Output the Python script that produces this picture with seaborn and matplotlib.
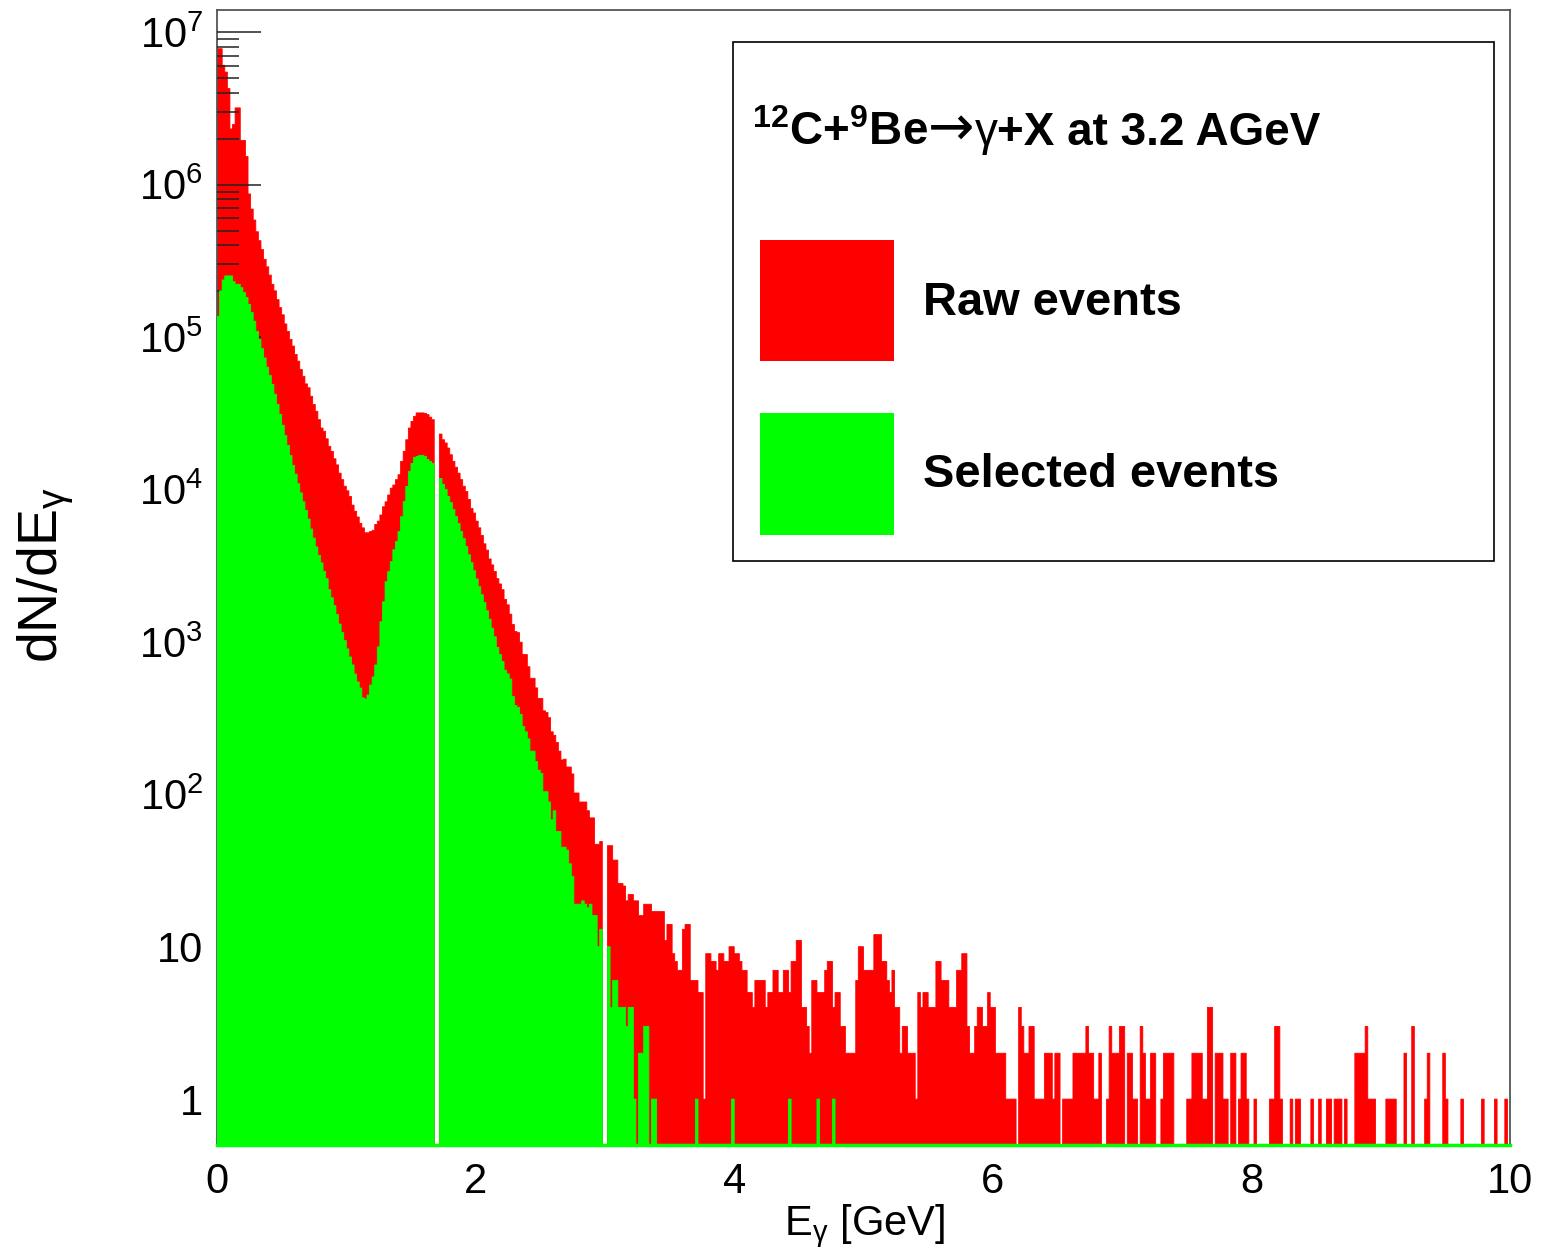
import numpy as np
import pandas as pd
import matplotlib
matplotlib.use("Agg")
import matplotlib.pyplot as plt
import seaborn as sns
from matplotlib.patches import Rectangle
from matplotlib.ticker import FixedLocator, LogLocator, NullFormatter

# ---------------- data (counts per 0.02 GeV bin) ----------------
E_MIN, E_MAX, N_BINS = 0.0, 10.0, 500

# raw events, bins 0..150 (0 - 3.02 GeV)
raw_low = [
    7800000, 7800000, 6070000, 5480000, 4270000, 2320000, 2480000, 3190000, 3190000, 1950000,
    1950000, 1530000, 869000, 692000, 586000, 491000, 429000, 375000, 324000, 289000,
    255000, 222000, 201000, 176000, 156000, 140000, 122000, 109000, 96600, 87300,
    76900, 69500, 61200, 55300, 49300, 46500, 40900, 36100, 32600, 28700,
    25300, 24100, 21500, 19200, 17800, 15900, 14500, 12800, 11600, 10500,
    9800, 9000, 7900, 7200, 6600, 6000, 5600, 5200, 5200, 5300,
    5400, 5900, 6200, 6800, 7700, 8300, 9200, 10200, 10700, 11600,
    12500, 15300, 17800, 21200, 25300, 28000, 30200, 31800, 31800, 31800,
    31600, 31000, 29800, 28700, 0, 0, 23100, 21200, 20200, 18700,
    16900, 15300, 14000, 12800, 11600, 10500, 9700, 8600, 7500, 7000,
    6200, 5600, 5000, 4400, 4000, 3500, 3200, 2900, 2600, 2400,
    2200, 1900, 1750, 1520, 1300, 1170, 1150, 995, 826, 826,
    687, 577, 577, 499, 426, 426, 353, 344, 318, 257,
    244, 219, 192, 168, 170, 151, 151, 136, 102, 102,
    89, 89, 89, 78, 70, 70, 47, 47, 49, 0,
    0,
]

# raw events, bins 151..499 (3.02 - 10 GeV)
raw_tail = [
    46, 46, 37, 37, 26, 26, 25, 20, 22, 22,
    20, 20, 16, 16, 19, 19, 19, 17, 17, 17,
    17, 17, 11, 14, 14, 9, 8, 7, 7, 13,
    14, 14, 6, 6, 6, 5, 5, 1, 9, 9,
    8, 8, 7, 9, 9, 8, 8, 10, 10, 9,
    9, 8, 7, 7, 5, 5, 4, 6, 6, 6,
    6, 4, 5, 5, 7, 7, 5, 5, 7, 7,
    5, 8, 8, 11, 11, 4, 4, 3, 2, 6,
    6, 5, 5, 5, 7, 8, 8, 4, 5, 5,
    3, 3, 2, 2, 2, 2, 6, 10, 10, 7,
    7, 7, 7, 12, 12, 12, 8, 8, 6, 5,
    7, 4, 4, 2, 3, 3, 2, 2, 2, 1,
    5, 4, 5, 5, 4, 4, 4, 8, 8, 6,
    6, 6, 4, 4, 4, 7, 7, 9, 9, 3,
    2, 2, 3, 4, 4, 3, 3, 5, 4, 4,
    2, 2, 2, 2, 1, 1, 1, 1, 0, 4,
    3, 2, 2, 3, 3, 1, 1, 1, 1, 2,
    2, 2, 1, 2, 2, 0, 1, 1, 1, 1,
    2, 2, 2, 2, 2, 3, 2, 2, 1, 1,
    2, 0, 0, 1, 3, 2, 2, 2, 3, 3,
    0, 2, 2, 1, 1, 0, 3, 2, 1, 1,
    2, 2, 0, 0, 1, 2, 2, 2, 2, 0,
    0, 0, 0, 0, 1, 1, 2, 2, 2, 2,
    1, 1, 4, 4, 0, 2, 2, 2, 1, 1,
    0, 2, 2, 0, 1, 2, 2, 1, 0, 0,
    1, 0, 0, 0, 0, 0, 1, 1, 3, 3,
    1, 0, 0, 0, 1, 0, 1, 1, 0, 0,
    0, 0, 1, 0, 0, 1, 0, 0, 1, 1,
    0, 1, 1, 1, 0, 1, 0, 0, 0, 2,
    2, 2, 2, 3, 1, 1, 1, 0, 0, 0,
    0, 1, 1, 1, 1, 0, 0, 0, 2, 0,
    0, 3, 0, 0, 0, 0, 1, 2, 0, 0,
    0, 0, 0, 2, 1, 0, 0, 0, 0, 0,
    1, 0, 0, 0, 0, 0, 0, 0, 1, 0,
    0, 0, 0, 1, 0, 0, 0, 1, 0,
]

# selected events, bins 0..150
sel_low = [
    137000, 201000, 237000, 252000, 252000, 252000, 231000, 222000, 222000, 211000,
    196000, 182000, 164000, 145000, 127000, 109000, 96600, 84000, 73000, 63500,
    56000, 49000, 42200, 36200, 31100, 26400, 22600, 19500, 16700, 14400,
    12600, 10900, 9500, 8300, 7300, 6400, 5500, 4800, 4200, 3700,
    3300, 2900, 2600, 2200, 1950, 1730, 1510, 1310, 1150, 1020,
    900, 796, 706, 615, 546, 498, 429, 422, 448, 521,
    589, 706, 927, 1355, 1832, 2483, 2891, 3357, 4027, 4550,
    5297, 6637, 8337, 10470, 13120, 14830, 16260, 16480, 16750, 16750,
    16480, 15740, 15280, 14830, 0, 0, 11800, 10790, 10000, 9000,
    8200, 7380, 6640, 5970, 5300, 4760, 4220, 3730, 3310, 2930,
    2590, 2300, 2040, 1810, 1600, 1410, 1230, 1080, 920, 826,
    743, 652, 617, 570, 438, 383, 372, 335, 279, 257,
    231, 192, 192, 164, 144, 137, 104, 104, 89, 68,
    78, 57, 57, 45, 45, 43, 35, 29, 19, 19,
    19, 20, 19, 18, 19, 16, 16, 10, 13, 0,
    0,
]

# selected events above 3.02 GeV: bin index -> count (all other bins empty)
sel_tail_bins = [151, 152, 153, 154, 155, 156, 157, 158, 159, 160, 161, 163, 164,
                 165, 166, 168, 169, 185, 199, 221, 232, 238]
sel_tail_counts = [10, 4, 6, 6, 4, 4, 4, 3, 4, 4, 1, 2, 2,
                   3, 3, 1, 1, 1, 1, 1, 1, 1]

x_tick_values = [0, 2, 4, 6, 8, 10]
y_tick_values = [1, 10, 1e2, 1e3, 1e4, 1e5, 1e6, 1e7]
y_tick_labels = ["1", "10", r"$\mathregular{10^{2}}$", r"$\mathregular{10^{3}}$",
                 r"$\mathregular{10^{4}}$", r"$\mathregular{10^{5}}$",
                 r"$\mathregular{10^{6}}$", r"$\mathregular{10^{7}}$"]
legend_labels = ["Raw events", "Selected events"]
# title pieces: (text, family, weight, size)
title_pieces = [
    (r"$\mathbf{^{12}C{+}^{9}Be}$", "Liberation Sans", "bold", 33),
    ("\u2192", "DejaVu Sans", "normal", 40),
    ("\u03b3", "Liberation Sans", "normal", 33),
    ("+X at 3.2 AGeV", "Liberation Sans", "bold", 33),
]

# ---------------- build table ----------------
edges = np.linspace(E_MIN, E_MAX, N_BINS + 1)
centers = 0.5 * (edges[:-1] + edges[1:])
raw = np.array(raw_low + raw_tail, dtype=float)
sel = np.zeros(N_BINS)
sel[:len(sel_low)] = sel_low
sel[sel_tail_bins] = sel_tail_counts
df = pd.DataFrame({"E": np.concatenate([centers, centers]),
                   "n": np.concatenate([raw, sel]),
                   "sample": [legend_labels[0]] * N_BINS + [legend_labels[1]] * N_BINS})
bin_edges = [float(v) for v in edges]

# ---------------- style ----------------
sns.set_style("white")
plt.rcParams["font.family"] = ["Liberation Sans", "DejaVu Sans"]
plt.rcParams["mathtext.fontset"] = "custom"
plt.rcParams["mathtext.rm"] = "Liberation Sans"
plt.rcParams["mathtext.it"] = "Liberation Sans:italic"
plt.rcParams["mathtext.bf"] = "Liberation Sans:bold"
for k in ["text.color", "axes.labelcolor", "xtick.color", "ytick.color"]:
    plt.rcParams[k] = "black"

RED = "#ff0000"
GREEN = "#00ff00"
W, H = 1541, 1255
fig = plt.figure(figsize=(W / 100, H / 100), dpi=100)
ax = fig.add_axes([217 / W, 1 - 1145 / H, (1510 - 217) / W, (1145 - 10) / H])
ax.set_yscale("log")

sns.histplot(data=df[df["sample"] == legend_labels[0]], x="E", weights="n", bins=bin_edges,
             element="step", fill=True, color=RED, alpha=1.0, edgecolor=RED,
             linewidth=0.6, ax=ax)
n_before = len(ax.collections)
nl_before = len(ax.lines)
sns.histplot(data=df[df["sample"] == legend_labels[1]], x="E", weights="n", bins=bin_edges,
             element="step", fill=True, color=GREEN, alpha=1.0, edgecolor=GREEN,
             linewidth=0.6, ax=ax)
for art in ax.collections[n_before:]:
    art.set_zorder(3)
for art in ax.lines[nl_before:]:
    art.set_zorder(3)

ax.set_xlim(E_MIN, E_MAX)
ax.set_ylim(0.5, 1.4e7)
ax.set_axisbelow(False)
ax.set_xlabel("")
ax.set_ylabel("")

# ticks
ax.set_xticks(x_tick_values)
ax.set_xticklabels([str(v) for v in x_tick_values])
ax.tick_params(axis="x", which="both", bottom=True, length=0, pad=12, labelsize=30,
               labelcolor="black")
ax.yaxis.set_major_locator(FixedLocator(y_tick_values))
ax.set_yticklabels(y_tick_labels)
ax.yaxis.set_minor_locator(LogLocator(base=10, subs=np.arange(2, 10)))
ax.yaxis.set_minor_formatter(NullFormatter())
ax.tick_params(axis="y", which="major", left=True, direction="in", length=32, width=1.1,
               color="#222222", pad=10, labelsize=30, labelcolor="black")
ax.tick_params(axis="y", which="minor", left=True, direction="in", length=16, width=1.1,
               color="#222222")
for s in ["top", "right", "left"]:
    ax.spines[s].set_color("#555555")
    ax.spines[s].set_linewidth(1.3)
ax.spines["bottom"].set_color(GREEN)
ax.spines["bottom"].set_linewidth(2.5)
ax.spines["bottom"].set_zorder(3.5)

# axis titles
fig.text(46 / W, 1 - 575 / H, r"dN/dE$_{\mathrm{\gamma}}$", rotation=90, fontsize=40,
         ha="center", va="center", color="black")
fig.text(864 / W, 1 - 1226 / H, r"E$_{\mathrm{\gamma}}$ [GeV]", fontsize=30,
         ha="center", va="center", color="black")

# legend box
fig.patches.append(Rectangle((733 / W, 1 - 561 / H), (1494 - 733) / W, (561 - 42) / H,
                             transform=fig.transFigure, facecolor="white",
                             edgecolor="black", linewidth=1.2, zorder=5))
renderer = fig.canvas.get_renderer()
x_px = 752.0
for txt, fam, wt, fs in title_pieces:
    t = fig.text(x_px / W, 1 - 145 / H, txt, fontsize=fs, fontweight=wt,
                 family=[fam, "DejaVu Sans"], ha="left", va="baseline", zorder=6,
                 color="black")
    x_px += t.get_window_extent(renderer=renderer).width
for (ytop, ybot), col, lab, yc in [((240, 361), RED, legend_labels[0], 303),
                                   ((413, 535), GREEN, legend_labels[1], 475)]:
    fig.patches.append(Rectangle((760 / W, 1 - ybot / H), (894 - 760) / W, (ybot - ytop) / H,
                                 transform=fig.transFigure, facecolor=col,
                                 edgecolor="none", zorder=6))
    fig.text(923 / W, 1 - yc / H, lab, fontsize=33.8, fontweight="bold",
             ha="left", va="center", zorder=6, color="black")

fig.savefig("out.png", dpi=100, facecolor="white")
